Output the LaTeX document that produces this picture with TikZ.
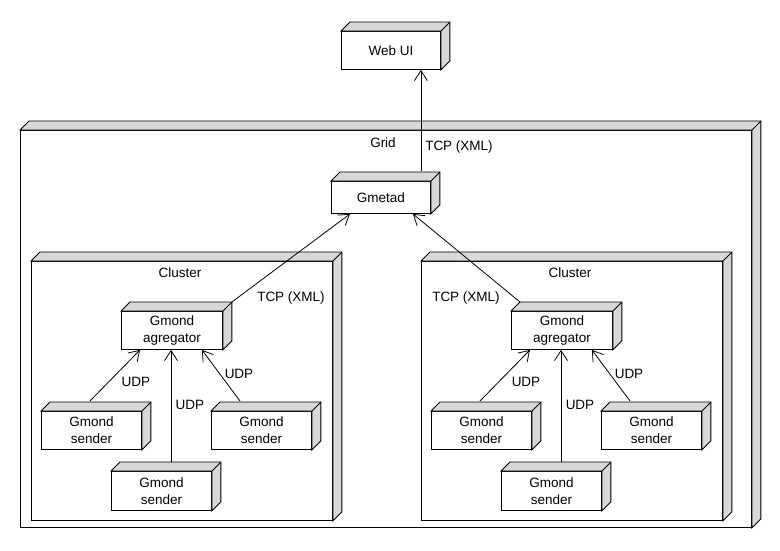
\documentclass[tikz,border=0pt]{standalone}
\usepackage{fontspec}
\setmainfont{Liberation Sans}
\usetikzlibrary{arrows.meta}
\definecolor{sidegray}{RGB}{216,216,216}
% depth of the 3D node faces
\newcommand\nd{9}
% top and right faces of a 3D deployment node
\newcommand\nodesides[1]{%
  \filldraw[fill=sidegray,line width=0.9pt,line join=miter]
    (#1.north west) -- ++(\nd,-\nd) -- ([shift={(\nd,-\nd)}]#1.north east)
    -- ([shift={(\nd,-\nd)}]#1.south east) -- (#1.south east)
    -- (#1.north east) -- cycle;
  \draw[line width=0.9pt] (#1.north east) -- ++(\nd,-\nd);
}
\tikzset{
  front/.style={draw,fill=white,line width=0.9pt,inner sep=0pt,anchor=north west,
    align=center,font=\fontsize{13.5}{17}\selectfont},
  lbl/.style={inner sep=0pt,font=\fontsize{13.5}{17}\selectfont},
  conn/.style={line width=0.8pt,-{Straight Barb[length=10pt,width=13pt,line width=0.8pt]}}
}
\begin{document}
\begin{tikzpicture}[x=1pt,y=-1pt]
\useasboundingbox (0,0) rectangle (780,550);

% Web UI
\node[front,minimum width=99pt,minimum height=38pt] (webui) at (341,31) {Web UI};
\nodesides{webui}

% Grid container
\node[front,minimum width=731pt,minimum height=397pt] (grid) at (20,130) {};
\nodesides{grid}
\node[lbl] (gridlbl) at (383,143) {Grid};

% Gmetad
\node[front,minimum width=99pt,minimum height=32pt] (gmetad) at (331,181) {Gmetad};
\nodesides{gmetad}

% the two clusters
\foreach \s/\dx in {L/0,R/390}{
  \begin{scope}[xshift=\dx]
    \node[front,minimum width=301pt,minimum height=259pt] (cl\s) at (31,261) {};
    \nodesides{cl\s}
    \node[lbl] (cllbl\s) at (180,273) {Cluster};

    \node[front,minimum width=101pt,minimum height=38pt] (agg\s) at (121,311) {Gmond\\agregator};
    \nodesides{agg\s}

    \node[front,minimum width=100pt,minimum height=38pt] (sa\s) at (41,411) {Gmond\\sender};
    \nodesides{sa\s}
    \node[front,minimum width=100pt,minimum height=39pt] (sb\s) at (111,471) {Gmond\\sender};
    \nodesides{sb\s}
    \node[front,minimum width=100pt,minimum height=38pt] (sc\s) at (211,411) {Gmond\\sender};
    \nodesides{sc\s}

    % UDP links from senders to the aggregator
    \draw[conn] ([shift={(49,-10)}]sa\s.north west) -- ([xshift=19]agg\s.south west);
    \coordinate (sbtop\s) at ([shift={(60,-9)}]sb\s.north west);
    \draw[conn] (sbtop\s) -- (sbtop\s |- agg\s.south);
    \draw[conn] ([shift={(29,-10)}]sc\s.north west) -- ([xshift=-21]agg\s.south east);

    \node[lbl] (udpa\s) at (136,382) {UDP};
    \node[lbl] (udpb\s) at (190,405) {UDP};
    \node[lbl] (udpc\s) at (239,374) {UDP};
  \end{scope}
}

% TCP links
\coordinate (gmtop) at ([shift={(-10,-10)}]gmetad.north east);
\draw[conn] (gmtop) -- (gmtop |- webui.south);
\draw[conn] ([shift={(\nd,-\nd)}]aggL.north east) -- ([xshift=19]gmetad.south west);
\draw[conn] ([shift={(\nd,-\nd)}]aggR.north west) -- ([xshift=-18]gmetad.south east);

\node[lbl] (tcpweb) at (459,147) {TCP (XML)};
\node[lbl] (tcpL) at (291,298) {TCP (XML)};
\node[lbl] (tcpR) at (466,298) {TCP (XML)};
\end{tikzpicture}
\end{document}
